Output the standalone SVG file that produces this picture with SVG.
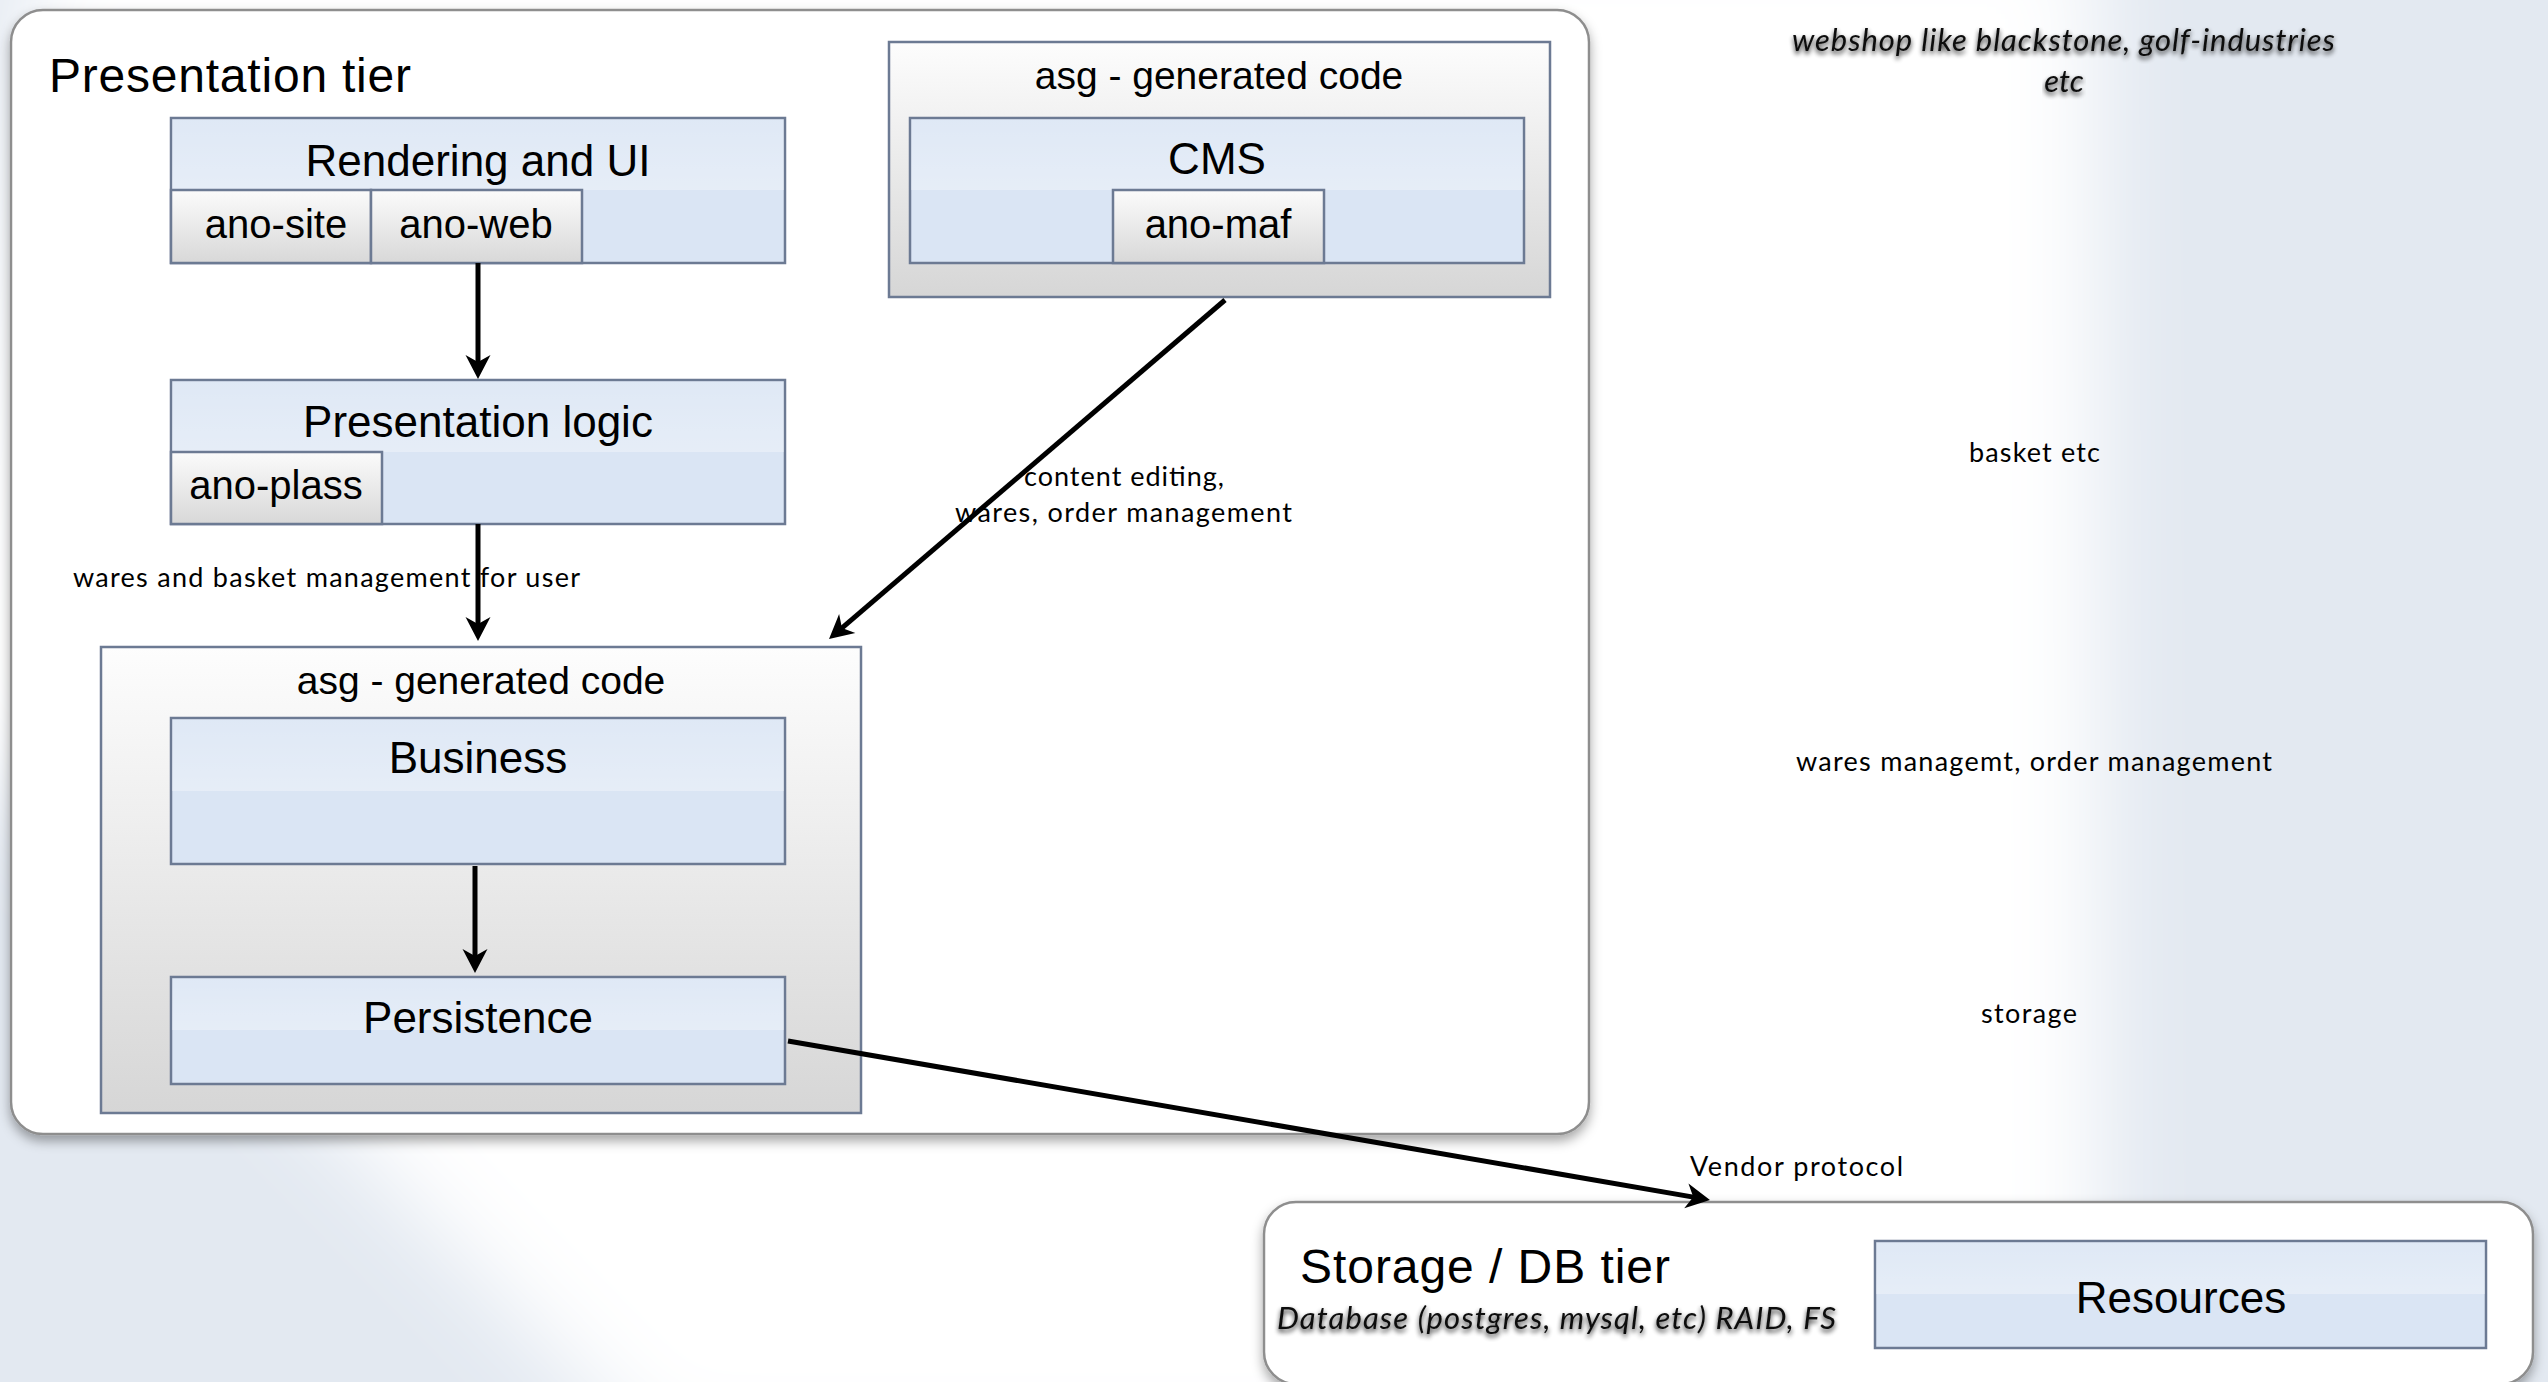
<svg xmlns="http://www.w3.org/2000/svg" width="2548" height="1382" viewBox="0 0 2548 1382">
  <defs>
    <style>
      .tier { fill: #ffffff; stroke: #8e8e8e; stroke-width: 2.5; }
      .blue { fill: #dae5f4; stroke: #6c7a93; stroke-width: 2.5; }
      .glass { fill: url(#glassGrad); stroke: none; }
      .gray { fill: url(#grayGrad); stroke: #6c7a93; stroke-width: 2.5; }
      .chip { fill: url(#chipGrad); stroke: #6c7a93; stroke-width: 2.5; }
      .h { font-family: "Liberation Sans", Arial, Helvetica, sans-serif; fill: #000000; }
      .title { font-size: 48px; }
      .lbl { font-size: 44px; text-anchor: middle; }
      .sub { font-size: 39px; text-anchor: middle; }
      .chiptxt { font-size: 40px; text-anchor: middle; }
      .note { font-family: "Lato", "Open Sans", sans-serif; font-size: 27px; fill: #000000; }
      .ital { font-size: 31px; font-style: italic; fill: #111111; filter: url(#textShadow); }
      .wire { fill: none; stroke: #000000; stroke-width: 5; marker-end: url(#arrow); }
    </style>
    <linearGradient id="glassGrad" x1="0" y1="0" x2="0" y2="1">
      <stop offset="0" stop-color="#ffffff" stop-opacity="0.14"/>
      <stop offset="1" stop-color="#ffffff" stop-opacity="0.32"/>
    </linearGradient>
    <linearGradient id="grayGrad" x1="0" y1="0" x2="0" y2="1">
      <stop offset="0" stop-color="#fdfdfd"/>
      <stop offset="1" stop-color="#d6d6d6"/>
    </linearGradient>
    <linearGradient id="chipGrad" x1="0" y1="0" x2="0" y2="1">
      <stop offset="0" stop-color="#fbfbfb"/>
      <stop offset="1" stop-color="#d8d8d8"/>
    </linearGradient>
    <filter id="bgBlur" filterUnits="userSpaceOnUse" x="-300" y="-300" width="3148" height="1982">
      <feGaussianBlur stdDeviation="45"/>
    </filter>
    <filter id="dropShadow" x="-5%" y="-5%" width="110%" height="115%">
      <feDropShadow dx="0" dy="6" stdDeviation="6" flood-color="#000000" flood-opacity="0.35"/>
    </filter>
    <filter id="textShadow" x="-5%" y="-40%" width="110%" height="180%">
      <feGaussianBlur in="SourceAlpha" stdDeviation="2.5" result="b"/>
      <feOffset in="b" dx="0" dy="3" result="o"/>
      <feComponentTransfer in="o" result="s">
        <feFuncA type="linear" slope="0.85"/>
      </feComponentTransfer>
      <feMerge>
        <feMergeNode in="s"/>
        <feMergeNode in="SourceGraphic"/>
      </feMerge>
    </filter>
    <marker id="arrow" viewBox="-30 -15 40 30" refX="-8" refY="0" markerWidth="40" markerHeight="30" markerUnits="userSpaceOnUse" orient="auto">
      <path d="M0,0 L-24,-12.5 L-17,0 L-24,12.5 Z" fill="#000000"/>
    </marker>
  </defs>

  <!-- canvas backdrop: pale blue with a soft white sweep -->
  <g id="backdrop">
    <rect x="0" y="0" width="2548" height="1382" fill="#e3e9f1"/>
    <polygon points="40,-80 2095,-80 2100,1460 660,1460 -80,700" fill="#ffffff" filter="url(#bgBlur)"/>
  </g>

  <!-- presentation tier container -->
  <g id="presentation-tier">
    <rect class="tier" x="11" y="10" width="1578" height="1124" rx="32" ry="32" filter="url(#dropShadow)"/>
    <text class="h title" x="49" y="92" textLength="362" lengthAdjust="spacing">Presentation tier</text>
  </g>

  <g id="rendering-ui">
    <rect class="blue" x="171" y="118" width="614" height="145"/>
    <rect class="glass" x="172" y="119" width="612" height="71"/>
    <text class="h lbl" x="478" y="176">Rendering and UI</text>
  </g>
  <g id="ano-site">
    <rect class="chip" x="171" y="190" width="200" height="73"/>
    <text class="h chiptxt" x="276" y="238">ano-site</text>
  </g>
  <g id="ano-web">
    <rect class="chip" x="371" y="190" width="211" height="73"/>
    <text class="h chiptxt" x="476" y="238">ano-web</text>
  </g>

  <g id="presentation-logic">
    <rect class="blue" x="171" y="380" width="614" height="144"/>
    <rect class="glass" x="172" y="381" width="612" height="71"/>
    <text class="h lbl" x="478" y="437">Presentation logic</text>
  </g>
  <g id="ano-plass">
    <rect class="chip" x="171" y="452" width="211" height="72"/>
    <text class="h chiptxt" x="276" y="499">ano-plass</text>
  </g>

  <g id="cms-generated">
    <rect class="gray" x="889" y="42" width="661" height="255"/>
    <text class="h sub" x="1219" y="89">asg - generated code</text>
  </g>
  <g id="cms">
    <rect class="blue" x="910" y="118" width="614" height="145"/>
    <rect class="glass" x="911" y="119" width="612" height="71"/>
    <text class="h lbl" x="1217" y="174">CMS</text>
  </g>
  <g id="ano-maf">
    <rect class="chip" x="1113" y="190" width="211" height="73"/>
    <text class="h chiptxt" x="1218" y="238">ano-maf</text>
  </g>

  <g id="core-generated">
    <rect class="gray" x="101" y="647" width="760" height="466"/>
    <text class="h sub" x="481" y="694">asg - generated code</text>
  </g>
  <g id="business">
    <rect class="blue" x="171" y="718" width="614" height="146"/>
    <rect class="glass" x="172" y="719" width="612" height="72"/>
    <text class="h lbl" x="478" y="773">Business</text>
  </g>
  <g id="persistence">
    <rect class="blue" x="171" y="977" width="614" height="107"/>
    <rect class="glass" x="172" y="978" width="612" height="52"/>
    <text class="h lbl" x="478" y="1033">Persistence</text>
  </g>

  <!-- storage tier container -->
  <g id="storage-tier">
    <rect class="tier" x="1264" y="1202" width="1269" height="182" rx="32" ry="32" filter="url(#dropShadow)"/>
    <text class="h title" x="1300" y="1283" textLength="370" lengthAdjust="spacing">Storage / DB tier</text>
    <text class="note ital" x="1277" y="1329" textLength="559" lengthAdjust="spacing">Database (postgres, mysql, etc) RAID, FS</text>
  </g>
  <g id="resources">
    <rect class="blue" x="1875" y="1241" width="611" height="107"/>
    <rect class="glass" x="1876" y="1242" width="609" height="52"/>
    <text class="h lbl" x="2181" y="1313">Resources</text>
  </g>

  <!-- connectors -->
  <g id="connectors">
    <path class="wire" d="M478,263 L478,371"/>
    <path class="wire" d="M478,524 L478,633"/>
    <path class="wire" d="M475,866 L475,965"/>
    <path class="wire" d="M1225,300 L835.1,633.8"/>
    <path class="wire" d="M788,1041 L1702.1,1198.6"/>
  </g>

  <!-- connector and side annotations -->
  <g id="annotations">
    <text class="note" x="73" y="587" textLength="507" lengthAdjust="spacing">wares and basket management for user</text>
    <text class="note" x="1024" y="486" textLength="200" lengthAdjust="spacing">content editing,</text>
    <text class="note" x="955" y="522" textLength="337" lengthAdjust="spacing">wares, order management</text>
    <text class="note" x="1690" y="1176" textLength="213" lengthAdjust="spacing">Vendor protocol</text>
    <text class="note ital" x="1792" y="51" textLength="543" lengthAdjust="spacing">webshop like blackstone, golf-industries</text>
    <text class="note ital" x="2064" y="92" text-anchor="middle">etc</text>
    <text class="note" x="1969" y="462" textLength="131" lengthAdjust="spacing">basket etc</text>
    <text class="note" x="1796" y="771" textLength="476" lengthAdjust="spacing">wares managemt, order management</text>
    <text class="note" x="1981" y="1023" textLength="96" lengthAdjust="spacing">storage</text>
  </g>
</svg>
